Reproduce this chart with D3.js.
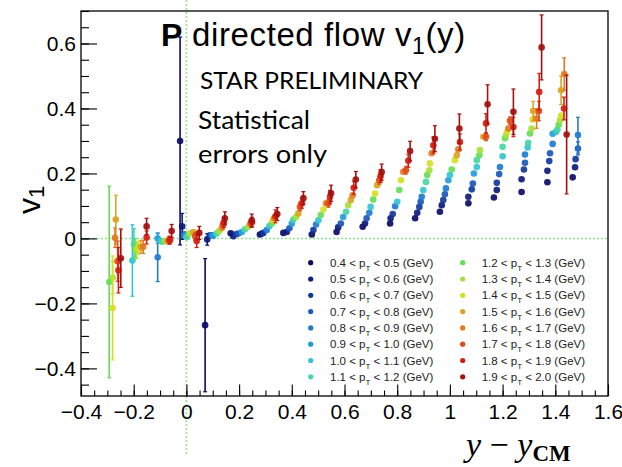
<!DOCTYPE html>
<html>
<head>
<meta charset="utf-8">
<script src="https://cdn.jsdelivr.net/npm/d3@7"></script>
<style>
  html, body { margin: 0; padding: 0; background: #fff; }
  svg { display: block; }
</style>
</head>
<body>
<svg id="chart" width="622" height="467"></svg>
<script>
// pT bins (GeV) and their marker colours
const ptLow  = ["0.4","0.5","0.6","0.7","0.8","0.9","1.0","1.1","1.2","1.3","1.4","1.5","1.6","1.7","1.8","1.9"];
const ptHigh = ["0.5","0.6","0.7","0.8","0.9","1.0","1.1","1.2","1.3","1.4","1.5","1.6","1.7","1.8","1.9","2.0"];
const ptColors = ["#0b0b66","#0e1a7c","#12389c","#1a58bb","#1f7bd2","#229dd9","#33c3d3","#48d6a2",
                  "#66dc58","#a6df3a","#d6de22","#dba322","#e27a22","#e04c18","#d41f10","#a3100f"];

// Rapidity slices: each row is [pT bin index, y - y_CM, v1, stat. error]
const slice01 = [[8,-0.293,-0.134,0.295],[9,-0.280,-0.121,0.05],[10,-0.280,-0.214,0.16],[11,-0.268,0.058,0.075],
                 [12,-0.271,0.002,0.03],[13,-0.261,-0.070,0.062],[14,-0.258,-0.098,0.07],[15,-0.249,-0.061,0.09]];
const slice02 = [[6,-0.205,-0.068,0.11],[7,-0.199,-0.018,0.048],[8,-0.194,-0.031,0.03],[9,-0.189,-0.036,0.025],
                 [10,-0.183,-0.029,0.02],[11,-0.173,-0.026,0.02],[12,-0.164,-0.026,0.02],[14,-0.151,0.003,0.02],
                 [15,-0.151,0.037,0.025]];
const slice03 = [[4,-0.109,-0.058,0.075],[5,-0.109,0.000,0.015],[6,-0.098,-0.008],[7,-0.090,-0.010],[9,-0.081,-0.008],
                 [11,-0.072,-0.008],[13,-0.066,-0.006],[14,-0.062,-0.005],[15,-0.056,0.023,0.02]];
const slice04 = [[0,-0.024,0.300,0.32],[1,-0.016,0.037,0.04],[3,-0.009,0.013],[5,-0.005,0.009],[7,0.001,0.004],
                 [9,0.011,0.015],[11,0.026,0.020],[13,0.033,0.007],[14,0.039,-0.008,0.02],[15,0.049,0.017,0.02]];
const slice05 = [[0,0.071,-0.267,0.205],[1,0.079,-0.003,0.018],[2,0.090,0.010],[4,0.097,0.010],[5,0.102,0.008],
                 [7,0.115,0.015],[9,0.124,0.023],[11,0.134,0.031],[13,0.138,0.041],[14,0.142,0.049,0.015],[15,0.146,0.062,0.02]];
const slice06 = [[0,0.168,0.016],[1,0.178,0.007],[2,0.188,0.013],[3,0.197,0.015],[5,0.210,0.020],[7,0.222,0.028],
                 [9,0.235,0.036],[11,0.241,0.044],[13,0.245,0.047],[14,0.249,0.050,0.015],[15,0.248,0.055,0.02]];
const slice07 = [[0,0.279,0.012],[1,0.287,0.015],[2,0.292,0.017],[4,0.305,0.026],[6,0.315,0.038],[8,0.324,0.046],
                 [10,0.328,0.056],[12,0.333,0.062],[14,0.338,0.068,0.02],[15,0.345,0.075,0.02]];
const slice08 = [[0,0.368,0.017],[1,0.381,0.020],[3,0.391,0.031],[5,0.400,0.046],[7,0.406,0.058],[9,0.416,0.066],
                 [11,0.425,0.077],[13,0.431,0.097],[14,0.438,0.108,0.015],[15,0.444,0.124,0.02]];
const slice09 = [[0,0.476,0.012],[2,0.482,0.026],[4,0.492,0.043],[6,0.501,0.056],[8,0.510,0.072],[10,0.520,0.089],
                 [12,0.530,0.108],[13,0.539,0.108],[14,0.545,0.128,0.02],[15,0.549,0.139,0.025]];
const slice10 = [[0,0.570,0.020],[1,0.576,0.034],[3,0.586,0.046],[5,0.595,0.066],[7,0.606,0.082],[9,0.614,0.102],
                 [11,0.624,0.118],[12,0.631,0.133],[14,0.635,0.156,0.02],[15,0.643,0.181,0.025]];
const slice11 = [[0,0.669,0.036],[1,0.678,0.046],[3,0.684,0.062],[4,0.694,0.079],[6,0.699,0.097],[8,0.709,0.120],
                 [10,0.716,0.138],[11,0.724,0.164],[13,0.732,0.179],[14,0.737,0.192,0.02],[15,0.741,0.204,0.025]];
const slice12 = [[0,0.773,0.046],[1,0.775,0.062],[2,0.783,0.075],[4,0.792,0.099],[6,0.800,0.113],[8,0.808,0.149],
                 [10,0.814,0.179],[12,0.823,0.205],[13,0.833,0.210],[14,0.842,0.239,0.02],[15,0.849,0.269,0.03]];
const slice13 = [[0,0.868,0.062],[1,0.876,0.079],[2,0.884,0.097],[3,0.889,0.113],[4,0.893,0.128],[6,0.899,0.149],
                 [7,0.909,0.174],[8,0.914,0.195],[9,0.922,0.210],[10,0.924,0.231],[12,0.931,0.262],[14,0.937,0.287,0.025],
                 [15,0.943,0.307,0.04]];
const slice14 = [[0,0.962,0.082],[1,0.969,0.102],[2,0.975,0.118],[3,0.981,0.136],[4,0.985,0.154],[5,0.994,0.179],
                 [6,1.000,0.195],[8,1.007,0.212],[10,1.019,0.241],[11,1.026,0.256],[12,1.032,0.274],[14,1.038,0.297,0.025],
                 [15,1.036,0.338,0.045]];
const slice15 = [[0,1.070,0.108],[1,1.070,0.128],[2,1.083,0.151],[3,1.087,0.169],[5,1.091,0.200],[6,1.102,0.220],
                 [7,1.102,0.241],[8,1.112,0.256],[9,1.114,0.272],[11,1.127,0.313],[13,1.137,0.313],[14,1.137,0.354,0.03],
                 [15,1.143,0.413,0.06]];
const slice16 = [[0,1.167,0.126],[1,1.178,0.149],[2,1.178,0.171],[3,1.187,0.198],[4,1.190,0.220],[6,1.200,0.253],
                 [7,1.200,0.282],[8,1.209,0.308],[9,1.213,0.318],[10,1.217,0.328],[12,1.222,0.338],[13,1.228,0.362],
                 [14,1.241,0.343,0.03],[15,1.241,0.390,0.07]];
const slice17 = [[0,1.272,0.143],[1,1.272,0.182],[2,1.281,0.212],[3,1.285,0.233],[4,1.285,0.258],[6,1.295,0.280],
                 [7,1.297,0.294],[8,1.304,0.323],[9,1.310,0.338],[10,1.314,0.366],[11,1.316,0.392,0.03],[12,1.329,0.369,0.03],
                 [13,1.338,0.392,0.03],[14,1.339,0.451,0.057],[15,1.348,0.588,0.1]];
const slice18 = [[0,1.370,0.173],[1,1.370,0.208],[2,1.377,0.238],[3,1.380,0.262],[4,1.390,0.291],[5,1.390,0.322],
                 [6,1.403,0.328],[7,1.408,0.335],[8,1.413,0.350],[9,1.418,0.364],[10,1.422,0.378],[11,1.422,0.456,0.044],
                 [12,1.434,0.506,0.05],[14,1.433,0.400,0.035],[15,1.443,0.320,0.183]];
const slice19 = [[0,1.466,0.188],[1,1.475,0.219],[2,1.477,0.244],[3,1.486,0.277,0.02],[4,1.486,0.318,0.055]];

const slices = [slice01,slice02,slice03,slice04,slice05,slice06,slice07,slice08,slice09,slice10,
                slice11,slice12,slice13,slice14,slice15,slice16,slice17,slice18,slice19];

// axis ticks
const xMajorTicks = [-0.4,-0.2,0,0.2,0.4,0.6,0.8,1,1.2,1.4,1.6];
const yMajorTicks = [-0.4,-0.2,0,0.2,0.4,0.6];

const svg = d3.select("#chart");
const frame = {left: 81, right: 608, top: 11, bottom: 396};

const x = d3.scaleLinear().domain([-0.4, 1.6]).range([frame.left, frame.right]);
const y = d3.scaleLinear().domain([-0.485, 0.7]).range([frame.bottom, frame.top]);

const sans = "'Liberation Sans', Arial, Helvetica, sans-serif";
const fmt = d3.format("~g");

// reference lines at v1 = 0 and y = 0
const guide = svg.append("g").attr("stroke", "#8fe38f").attr("stroke-width", 1.5)
  .attr("stroke-dasharray", "2,2").attr("fill", "none");
guide.append("line").attr("x1", frame.left).attr("x2", frame.right).attr("y1", y(0)).attr("y2", y(0));
guide.append("line").attr("x1", x(0)).attr("x2", x(0)).attr("y1", 0).attr("y2", 456);

// frame
svg.append("rect").attr("x", frame.left).attr("y", frame.top)
  .attr("width", frame.right - frame.left).attr("height", frame.bottom - frame.top)
  .attr("fill", "none").attr("stroke", "#000").attr("stroke-width", 1.3);

// axes with ticks pointing into the frame
const xMinor = d3.range(-0.4, 1.6001, 0.05).map(v => +v.toFixed(2));
const yMinor = d3.range(-0.45, 0.7001, 0.05).map(v => +v.toFixed(2));

const gxMinor = svg.append("g").attr("transform", `translate(0,${frame.bottom})`)
  .call(d3.axisBottom(x).tickValues(xMinor).tickSize(-5.5).tickFormat(""));
const gx = svg.append("g").attr("transform", `translate(0,${frame.bottom})`)
  .call(d3.axisBottom(x).tickValues(xMajorTicks).tickSize(-11.5).tickPadding(8).tickFormat(fmt));
const gyMinor = svg.append("g").attr("transform", `translate(${frame.left},0)`)
  .call(d3.axisLeft(y).tickValues(yMinor).tickSize(-8).tickFormat(""));
const gy = svg.append("g").attr("transform", `translate(${frame.left},0)`)
  .call(d3.axisLeft(y).tickValues(yMajorTicks).tickSize(-16).tickPadding(5).tickFormat(fmt));

[gx, gy, gxMinor, gyMinor].forEach(g => {
  g.select(".domain").remove();
  g.selectAll("line").attr("stroke", "#000").attr("stroke-width", 1.1);
  g.selectAll("text").attr("font-family", sans).attr("font-size", 21).attr("fill", "#000");
});

// data: error bars and markers, pT bin by pT bin
const points = [];
slices.forEach(s => s.forEach(r => points.push({bin: r[0], y: r[1], v1: r[2], err: r[3] == null ? (r[0] >= 13 ? 0.012 : 0.006) : r[3]})));
const r = 3.3;
const dataG = svg.append("g");
d3.range(ptColors.length).forEach(b => {
  const pts = points.filter(p => p.bin === b);
  const col = ptColors[b];
  const g = dataG.append("g");
  const bars = pts.filter(p => (y(p.v1 - p.err) - y(p.v1 + p.err)) / 2 > r);
  g.selectAll("line.bar").data(bars).join("line").attr("class", "bar")
    .attr("x1", p => x(p.y)).attr("x2", p => x(p.y))
    .attr("y1", p => y(p.v1 + p.err)).attr("y2", p => y(p.v1 - p.err))
    .attr("stroke", col).attr("stroke-width", 1.6);
  g.selectAll("line.capT").data(bars).join("line").attr("class", "capT")
    .attr("x1", p => x(p.y) - 2).attr("x2", p => x(p.y) + 2)
    .attr("y1", p => y(p.v1 + p.err)).attr("y2", p => y(p.v1 + p.err))
    .attr("stroke", col).attr("stroke-width", 1.2);
  g.selectAll("line.capB").data(bars).join("line").attr("class", "capB")
    .attr("x1", p => x(p.y) - 2).attr("x2", p => x(p.y) + 2)
    .attr("y1", p => y(p.v1 - p.err)).attr("y2", p => y(p.v1 - p.err))
    .attr("stroke", col).attr("stroke-width", 1.2);
  g.selectAll("circle").data(pts).join("circle")
    .attr("cx", p => x(p.y)).attr("cy", p => y(p.v1)).attr("r", r)
    .attr("fill", col).attr("fill-opacity", 0.92);
});

// titles and notes
const title = svg.append("text").attr("x", 161).attr("y", 46)
  .attr("font-family", sans).attr("font-size", 33).attr("letter-spacing", 0.6).attr("fill", "#000");
title.append("tspan").attr("font-weight", "bold").attr("font-size", 32).attr("letter-spacing", 0).text("P");
title.append("tspan").text(" directed flow v");
title.append("tspan").attr("font-size", 23).attr("dy", 8).text("1");
title.append("tspan").attr("dy", -8).text("(y)");

const note = "Lato, 'Open Sans', sans-serif";
svg.append("text").attr("x", 200).attr("y", 89).attr("font-family", note).attr("font-size", 23)
  .attr("textLength", 223).attr("lengthAdjust", "spacingAndGlyphs").text("STAR PRELIMINARY");
svg.append("text").attr("x", 198).attr("y", 129).attr("font-family", note).attr("font-size", 25)
  .attr("textLength", 112).attr("lengthAdjust", "spacingAndGlyphs").text("Statistical");
svg.append("text").attr("x", 198).attr("y", 163).attr("font-family", note).attr("font-size", 25)
  .attr("textLength", 129).attr("lengthAdjust", "spacingAndGlyphs").text("errors only");

// axis titles
const yTitle = svg.append("text").attr("transform", "translate(40,214) rotate(-90)")
  .attr("font-family", sans).attr("font-size", 32).attr("fill", "#000");
yTitle.append("tspan").text("v");
yTitle.append("tspan").attr("font-size", 22).attr("dy", 4).text("1");

const xTitle = svg.append("text").attr("x", 466).attr("y", 456)
  .attr("font-family", "'Liberation Serif', 'DejaVu Serif', serif").attr("font-size", 34).attr("fill", "#000");
xTitle.append("tspan").attr("font-style", "italic").text("y");
xTitle.append("tspan").text(" \u2212 ");
xTitle.append("tspan").attr("font-style", "italic").text("y");
xTitle.append("tspan").attr("font-weight", "bold").attr("font-size", 23).attr("dy", 5).text("CM");

// legend
const legend = svg.append("g").attr("font-family", sans).attr("font-size", 11.5).attr("fill", "#222");
const rowY = i => 262.7 + i * 16.3;
ptLow.forEach((lo, i) => {
  const col = Math.floor(i / 8), row = i % 8;
  const mx = col === 0 ? 310.7 : 462.7;
  const tx = col === 0 ? 330 : 481.7;
  legend.append("circle").attr("cx", mx).attr("cy", rowY(row)).attr("r", 2.6).attr("fill", ptColors[i]);
  const t = legend.append("text").attr("x", tx).attr("y", rowY(row) + 4);
  t.append("tspan").text(`${lo} < p`);
  t.append("tspan").attr("font-size", 8).attr("dy", 4).text("T");
  t.append("tspan").attr("dy", -4).text(` < ${ptHigh[i]} (GeV)`);
});
</script>
</body>
</html>
